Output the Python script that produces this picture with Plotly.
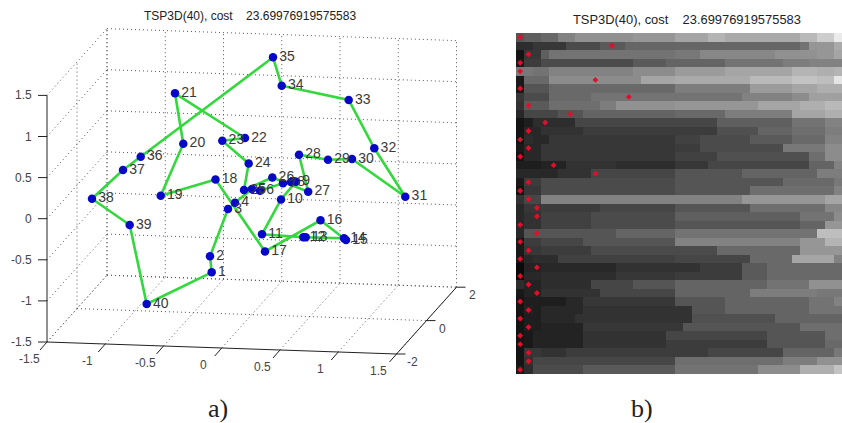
import plotly.graph_objects as go

# ---- left panel: projected positions of the 40 cities (axis units of the projected view)
city_labels = [str(i) for i in range(1, 41)]
city_u = [211.7, 210, 228, 235, 252, 260, 283, 291, 296, 281, 262, 303.3, 305.7, 344, 346, 320.5, 265, 215.5,
          160.7, 183.3, 175, 245, 222.3, 248.7, 244, 272.3, 308.2, 299, 328, 352, 405.3, 374.3, 348.7, 281.7,
          273, 140.7, 123, 92, 129.7, 146.7]
city_v = [272.3, 256.3, 209, 202.7, 189, 190.7, 183.3, 182, 181.7, 199.5, 234.3, 237.3, 237.3, 238.3, 240, 220.3,
          251.5, 179.5, 195.7, 143.7, 93.3, 138, 140.7, 163.5, 190, 177.5, 191.8, 154.7, 159.7, 159, 196.7, 148.3,
          100, 85.7, 57.3, 156.7, 170, 198.7, 225, 304]

x_ticks = [-1.5, -1, -0.5, 0, 0.5, 1, 1.5]
y_ticks = [-2, 0, 2]
z_ticks = [-1.5, -1, -0.5, 0, 0.5, 1, 1.5]
x_tick_labels = ["-1.5", "-1", "-0.5", "0", "0.5", "1", "1.5"]
y_tick_labels = ["-2", "0", "2"]
z_tick_labels = ["-1.5", "-1", "-0.5", "0", "0.5", "1", "1.5"]

ORIGIN = (47, 342)
EX = (116.5, 4.0)
EY = (15.0, -16.7)
EZ = (0.0, -82.2)


def proj(x, y, z):
    a, b, c = x + 1.5, y + 2, z + 1.5
    return (ORIGIN[0] + a * EX[0] + b * EY[0] + c * EZ[0],
            ORIGIN[1] + a * EX[1] + b * EY[1] + c * EZ[1])


def seg(p, q):
    return [p[0], q[0], None], [p[1], q[1], None]


# ---- right panel
# each row: (gray level, last column of that run)
rows = [
    [(85, 1), (95, 3), (105, 5), (130, 7), (145, 14), (150, 19), (165, 23), (180, 25), (170, 34), (185, 36), (205, 38), (235, 39)],
    [(45, 2), (55, 6), (75, 10), (90, 13), (102, 34), (115, 35), (150, 38), (170, 39)],
    [(20, 1), (55, 3), (95, 4), (115, 19), (120, 22), (135, 31), (145, 36), (150, 38), (165, 39)],
    [(25, 1), (60, 3), (75, 14), (90, 18), (100, 25), (115, 32), (125, 35), (130, 39)],
    [(120, 2), (115, 4), (130, 14), (140, 19), (155, 25), (165, 33), (180, 36), (175, 38), (180, 39)],
    [(25, 1), (105, 4), (140, 15), (165, 19), (170, 28), (185, 33), (195, 36), (190, 38), (230, 39)],
    [(25, 1), (85, 4), (105, 19), (125, 28), (155, 33), (165, 36), (175, 39)],
    [(55, 1), (75, 4), (105, 9), (115, 27), (130, 33), (140, 35), (160, 39)],
    [(50, 1), (90, 4), (110, 10), (125, 12), (145, 19), (150, 29), (165, 34), (175, 37), (185, 39)],
    [(40, 1), (70, 5), (85, 8), (100, 19), (105, 25), (125, 33), (165, 37), (175, 39)],
    [(20, 1), (30, 2), (45, 7), (70, 24), (95, 33), (115, 37), (130, 39)],
    [(20, 1), (40, 3), (50, 8), (60, 24), (80, 29), (100, 33), (110, 37), (125, 39)],
    [(20, 1), (45, 2), (40, 4), (55, 19), (65, 22), (75, 28), (90, 33), (105, 37), (130, 39)],
    [(25, 1), (40, 3), (55, 19), (60, 22), (75, 32), (120, 37), (140, 39)],
    [(20, 1), (40, 3), (55, 19), (65, 24), (80, 35), (110, 37), (140, 39)],
    [(30, 3), (35, 6), (50, 12), (45, 19), (55, 23), (70, 35), (100, 38), (130, 39)],
    [(40, 5), (50, 9), (70, 19), (85, 27), (100, 36), (125, 39)],
    [(25, 1), (60, 3), (75, 19), (85, 32), (105, 38), (120, 39)],
    [(20, 1), (55, 3), (75, 19), (85, 28), (110, 38), (130, 39)],
    [(50, 1), (70, 3), (130, 27), (150, 37), (165, 39)],
    [(40, 1), (55, 3), (60, 10), (70, 19), (85, 28), (110, 37), (135, 39)],
    [(40, 1), (50, 3), (65, 9), (75, 19), (95, 34), (115, 38), (140, 39)],
    [(40, 1), (50, 3), (65, 9), (75, 19), (85, 34), (100, 37), (150, 39)],
    [(40, 1), (85, 12), (100, 19), (115, 36), (190, 39)],
    [(25, 1), (60, 3), (70, 8), (85, 19), (130, 34), (150, 37), (180, 39)],
    [(25, 1), (55, 3), (60, 9), (75, 24), (105, 34), (150, 39)],
    [(25, 1), (40, 2), (45, 5), (65, 19), (70, 28), (105, 33), (165, 38), (130, 39)],
    [(10, 1), (35, 3), (40, 12), (50, 22), (60, 27), (90, 30), (105, 39)],
    [(10, 1), (40, 3), (45, 12), (55, 19), (60, 27), (90, 30), (105, 39)],
    [(45, 1), (35, 3), (45, 9), (70, 14), (85, 19), (100, 30), (115, 35), (145, 39)],
    [(25, 1), (35, 3), (50, 10), (70, 19), (100, 28), (125, 36), (120, 39)],
    [(20, 1), (30, 6), (40, 8), (55, 19), (85, 25), (100, 35), (115, 38), (130, 39)],
    [(20, 1), (35, 2), (30, 3), (40, 8), (50, 21), (85, 25), (100, 35), (115, 39)],
    [(20, 1), (30, 3), (40, 7), (50, 21), (80, 31), (100, 39)],
    [(20, 1), (30, 3), (35, 8), (55, 20), (85, 34), (110, 39)],
    [(20, 1), (25, 2), (35, 8), (50, 18), (70, 30), (85, 37), (110, 39)],
    [(20, 1), (25, 2), (35, 8), (50, 18), (60, 30), (85, 37), (105, 39)],
    [(20, 1), (55, 3), (50, 6), (60, 23), (70, 32), (100, 38), (120, 39)],
    [(20, 1), (50, 2), (70, 19), (110, 32), (125, 36), (145, 39)],
    [(25, 1), (45, 2), (75, 8), (90, 19), (115, 29), (140, 34), (175, 38), (195, 39)],
]
best_col = [1, 12, 2, 1, 1, 10, 1, 14, 2, 7, 4, 2, 1, 2, 1, 5, 10, 2, 1, 2,
            3, 3, 1, 3, 1, 2, 1, 3, 1, 2, 3, 1, 2, 1, 2, 1, 1, 2, 2, 1]

title_left = "TSP3D(40), cost\u00a0\u00a0\u00a0\u00a023.69976919575583"

z = []
for r in rows:
    line, start = [], 0
    for g, end in r:
        line += [g] * (end - start)
        start = end
    z.append(line)

fig = go.Figure()

# dotted box grid
gx, gy = [], []
def add(p, q):
    a, b = seg(p, q)
    gx.extend(a)
    gy.extend(b)

for x in x_ticks:
    add(proj(x, 2, -1.5), proj(x, 2, 1.5))      # back wall verticals
    add(proj(x, -2, -1.5), proj(x, 2, -1.5))    # floor
for z_ in z_ticks:
    add(proj(-1.5, 2, z_), proj(1.5, 2, z_))    # back wall horizontals
    add(proj(-1.5, -2, z_), proj(-1.5, 2, z_))  # left wall
for y in [0, 2]:
    add(proj(-1.5, y, -1.5), proj(-1.5, y, 1.5))
    add(proj(-1.5, y, -1.5), proj(1.5, y, -1.5))
fig.add_trace(go.Scatter(x=gx, y=gy, mode="lines", hoverinfo="skip",
                         line=dict(color="#555555", width=1, dash="1px 3px")))

# solid axes and ticks
ax, ay = [], []
def adds(p, q):
    a, b = seg(p, q)
    ax.extend(a)
    ay.extend(b)

adds(proj(-1.5, -2, -1.5), proj(-1.5, -2, 1.5))
adds(proj(-1.5, -2, -1.5), proj(1.5, -2, -1.5))
adds(proj(1.5, -2, -1.5), proj(1.5, 2, -1.5))
for z_ in z_ticks:
    p = proj(-1.5, -2, z_)
    adds(p, (p[0] - 9, p[1]))
for x in x_ticks:
    p = proj(x, -2, -1.5)
    adds(p, (p[0] - 7, p[1] + 8))
for y in y_ticks:
    p = proj(1.5, y, -1.5)
    adds(p, (p[0] + 9, p[1]))
fig.add_trace(go.Scatter(x=ax, y=ay, mode="lines", hoverinfo="skip",
                         line=dict(color="#222222", width=1)))

# tour and cities
fig.add_trace(go.Scatter(x=city_u + city_u[:1], y=city_v + city_v[:1], mode="lines", hoverinfo="skip",
                         line=dict(color="#33d83c", width=2.6)))
fig.add_trace(go.Scatter(x=city_u, y=city_v, mode="markers+text", text=city_labels,
                         textposition="middle right",
                         textfont=dict(family="Liberation Sans", size=14, color="#3a3a3a"),
                         marker=dict(color="#0808c8", size=8.5)))

# heatmap and minima
fig.add_trace(go.Heatmap(z=z, x=list(range(1, 40)), y=list(range(1, 41)), xaxis="x2", yaxis="y2",
                         colorscale=[[0, "#000000"], [1, "#ffffff"]], zmin=0, zmax=255, showscale=False))
fig.add_trace(go.Scatter(x=best_col, y=list(range(1, 41)), xaxis="x2", yaxis="y2", mode="markers",
                         marker=dict(color="#e0102c", size=4.5, symbol="diamond")))

tick_font = dict(family="Liberation Sans", size=12, color="#444444")
ann = []
for s, z_ in zip(z_tick_labels, z_ticks):
    p = proj(-1.5, -2, z_)
    ann.append(dict(x=p[0] - 13, y=p[1], text=s, xanchor="right", yanchor="middle"))
for s, x in zip(x_tick_labels, x_ticks):
    p = proj(x, -2, -1.5)
    ann.append(dict(x=p[0] - 18, y=p[1] + 17, text=s, xanchor="center", yanchor="middle"))
for s, y in zip(y_tick_labels, y_ticks):
    p = proj(1.5, y, -1.5)
    ann.append(dict(x=p[0] + 16, y=p[1] + 8, text=s, xanchor="center", yanchor="middle"))
for a in ann:
    a.update(xref="x", yref="y", showarrow=False, font=tick_font)
for xp, yp, s, fam, size in [
    (250, 16, title_left, "Liberation Sans", 12),
    (686.5, 20, title_left, "Liberation Sans", 12.9),
    (217.5, 408, "a)", "Liberation Serif", 26),
    (642, 408, "b)", "Liberation Serif", 26),
]:
    ann.append(dict(x=xp / 842, y=1 - yp / 423, xref="paper", yref="paper", text=s, showarrow=False,
                    xanchor="center", yanchor="middle", font=dict(family=fam, size=size, color="#222222")))

fig.update_layout(
    width=842, height=423, margin=dict(l=0, r=0, t=0, b=0),
    paper_bgcolor="white", plot_bgcolor="white", showlegend=False,
    xaxis=dict(domain=[0, 480 / 842], range=[0, 480], visible=False),
    yaxis=dict(domain=[0, 1], range=[423, 0], visible=False),
    xaxis2=dict(domain=[516 / 842, 1], range=[0.5, 39.5], visible=False, anchor="y2"),
    yaxis2=dict(domain=[1 - 374 / 423, 1 - 33 / 423], range=[40.5, 0.5], visible=False, anchor="x2"),
    annotations=ann,
)
fig.write_html("out.html", config={"displayModeBar": False},
               post_script="document.body.style.margin='0';document.body.style.overflow='hidden';")
